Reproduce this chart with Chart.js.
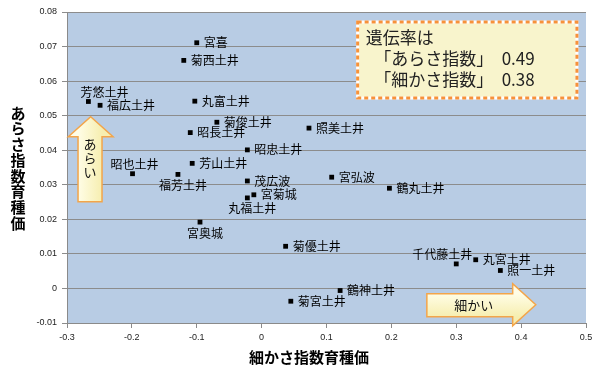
<!DOCTYPE html>
<html>
<head>
<meta charset="utf-8">
<script src="https://cdn.jsdelivr.net/npm/chart.js@4"></script>
<style>
  body { margin: 0; background: #fff; }
  #wrap { width: 598px; height: 366px; position: relative; }
</style>
</head>
<body>
<div id="wrap"><canvas id="chart"></canvas></div>
<script>
// 系統名と育種価（細かさ指数 / あらさ指数）
const names = ['宮喜', '菊西土井', '芳悠土井', '福広土井', '丸富土井', '菊俊土井', '昭長土井', '照美土井',
  '昭忠土井', '芳山土井', '昭也土井', '福芳土井', '茂広波', '宮弘波', '鶴丸土井', '宮菊城',
  '丸福土井', '宮奥城', '菊優土井', '千代藤土井', '丸宮土井', '照一土井', '鶴神土井', '菊宮土井'];
const fineVals = [-0.100, -0.120, -0.267, -0.249, -0.103, -0.069, -0.110, 0.073,
  -0.022, -0.107, -0.199, -0.129, -0.022, 0.108, 0.197, -0.012,
  -0.022, -0.095, 0.037, 0.300, 0.330, 0.368, 0.121, 0.045];
const roughVals = [0.0711, 0.0660, 0.0541, 0.0530, 0.0542, 0.0481, 0.0451, 0.0464,
  0.0401, 0.0362, 0.0332, 0.0330, 0.0311, 0.0322, 0.0290, 0.0271,
  0.0262, 0.0192, 0.0122, 0.0071, 0.0083, 0.0052, -0.0006, -0.0037];
// label side: r = right, t = above, b = below, tr / tl = above shifted
const labelSide = ['r', 'r', 'tr', 'r', 'r', 'r', 'r', 'r',
  'r', 'r', 't', 'b', 'r', 'r', 'r', 'r',
  'b', 'b', 'r', 'tl', 'r', 'r', 'r', 'r'];

const xTicks = [-0.3, -0.2, -0.1, 0, 0.1, 0.2, 0.3, 0.4, 0.5];
const yTicks = [-0.01, 0, 0.01, 0.02, 0.03, 0.04, 0.05, 0.06, 0.07, 0.08];
const xTitle = '細かさ指数育種価';
const yTitle = 'あらさ指数育種価';
const noteLines = ['遺伝率は', '　「あらさ指数」　0.49', '　「細かさ指数」　0.38'];

const JP = '"Noto Sans CJK JP", "Noto Sans", sans-serif';
const points = fineVals.map((x, i) => ({ x, y: roughVals[i] }));

function arrowFill(ctx, x0, y0, x1, y1) {
  const g = ctx.createLinearGradient(x0, y0, x1, y1);
  g.addColorStop(0, '#fffde6');
  g.addColorStop(1, '#f6eeb0');
  return g;
}

const plotBg = {
  id: 'plotBg',
  beforeDraw(chart) {
    const { ctx, chartArea: a } = chart;
    ctx.save();
    ctx.fillStyle = '#b8cce4';
    ctx.fillRect(a.left, a.top, a.right - a.left, a.bottom - a.top);
    ctx.restore();
  }
};

const extras = {
  id: 'extras',
  afterDatasetsDraw(chart) {
    const { ctx, scales: { x, y } } = chart;
    ctx.save();

    // data labels
    ctx.font = '12px ' + JP;
    ctx.fillStyle = '#000';
    ctx.textBaseline = 'middle';
    const off = { r: [7, 0, 'left'], t: [2, -9, 'center'], b: [5, 11, 'center'], tr: [-8, -9, 'left'], tl: [16, -9, 'right'] };
    points.forEach((p, i) => {
      const o = off[labelSide[i]];
      ctx.textAlign = o[2];
      ctx.fillText(names[i], x.getPixelForValue(p.x) + o[0], y.getPixelForValue(p.y) + o[1]);
    });

    // up arrow あらい
    let l = x.getPixelForValue(-0.298), r = x.getPixelForValue(-0.229);
    let sl = x.getPixelForValue(-0.283), sr = x.getPixelForValue(-0.246);
    let tip = y.getPixelForValue(0.0497), hb = y.getPixelForValue(0.0439), bot = y.getPixelForValue(0.0251);
    ctx.beginPath();
    ctx.moveTo((l + r) / 2, tip);
    ctx.lineTo(r, hb); ctx.lineTo(sr, hb); ctx.lineTo(sr, bot);
    ctx.lineTo(sl, bot); ctx.lineTo(sl, hb); ctx.lineTo(l, hb);
    ctx.closePath();
    ctx.fillStyle = arrowFill(ctx, sl, 0, sr, 0);
    ctx.fill();
    ctx.strokeStyle = '#f3a54a';
    ctx.lineWidth = 1.5;
    ctx.stroke();
    ctx.fillStyle = '#111';
    ctx.font = '13px ' + JP;
    ctx.textAlign = 'center';
    ['あ', 'ら', 'い'].forEach((c, i) => ctx.fillText(c, (sl + sr) / 2, hb + 7 + i * 14));

    // right arrow 細かい
    const ax0 = x.getPixelForValue(0.2547), axb = x.getPixelForValue(0.387), axt = x.getPixelForValue(0.4226);
    const st = y.getPixelForValue(-0.0015), sb = y.getPixelForValue(-0.0082);
    const ht = y.getPixelForValue(0.0014), hbm = y.getPixelForValue(-0.0108);
    ctx.beginPath();
    ctx.moveTo(ax0, st); ctx.lineTo(axb, st); ctx.lineTo(axb, ht);
    ctx.lineTo(axt, (ht + hbm) / 2); ctx.lineTo(axb, hbm); ctx.lineTo(axb, sb);
    ctx.lineTo(ax0, sb); ctx.closePath();
    ctx.fillStyle = arrowFill(ctx, 0, st, 0, sb);
    ctx.fill();
    ctx.stroke();
    ctx.fillStyle = '#111';
    ctx.fillText('細かい', (ax0 + axb) / 2 + 4, (st + sb) / 2);

    // heritability note
    const bx0 = x.getPixelForValue(0.148), bx1 = x.getPixelForValue(0.486);
    const by0 = y.getPixelForValue(0.0771), by1 = y.getPixelForValue(0.0551);
    ctx.fillStyle = '#f8f4cc';
    ctx.fillRect(bx0, by0, bx1 - bx0, by1 - by0);
    ctx.lineWidth = 3;
    ctx.strokeStyle = '#fff';
    ctx.strokeRect(bx0, by0, bx1 - bx0, by1 - by0);
    ctx.setLineDash([4, 3]);
    ctx.strokeStyle = '#f7923a';
    ctx.strokeRect(bx0, by0, bx1 - bx0, by1 - by0);
    ctx.setLineDash([]);
    ctx.fillStyle = '#222';
    ctx.font = '17px ' + JP;
    ctx.textAlign = 'left';
    noteLines.forEach((t, i) => ctx.fillText(t, bx0 + 8, by0 + 16 + i * 21));

    // axis titles
    ctx.fillStyle = '#000';
    ctx.font = 'bold 15px ' + JP;
    ctx.textAlign = 'center';
    ctx.fillText(xTitle, 309, 357);
    [...yTitle].forEach((c, i) => ctx.fillText(c, 18, 113 + i * 15.7));

    ctx.restore();
  }
};

new Chart(document.getElementById('chart'), {
  type: 'scatter',
  data: {
    datasets: [{
      data: points,
      pointStyle: 'rect',
      pointRadius: 3.4,
      backgroundColor: '#000',
      borderColor: '#000',
      borderWidth: 0
    }]
  },
  options: {
    responsive: true,
    maintainAspectRatio: false,
    animation: false,
    layout: { padding: { left: 0, top: 12, right: 12, bottom: 0 } },
    plugins: { legend: { display: false }, tooltip: { enabled: false } },
    scales: {
      x: {
        type: 'linear',
        min: -0.3,
        max: 0.5,
        afterBuildTicks: (s) => { s.ticks = xTicks.map((v) => ({ value: v })); },
        afterFit: (s) => { s.height = 43; },
        grid: { drawOnChartArea: false, drawTicks: true, tickLength: 5, color: '#8a8a8a' },
        border: { color: '#8a8a8a', width: 1 },
        ticks: {
          padding: 4,
          color: '#222',
          font: { family: '"Liberation Sans", Arial, sans-serif', size: 9 },
          maxRotation: 0,
          callback: (v) => String(Math.round(v * 10) / 10)
        }
      },
      y: {
        type: 'linear',
        min: -0.01,
        max: 0.08,
        afterBuildTicks: (s) => { s.ticks = yTicks.map((v) => ({ value: v })); },
        afterFit: (s) => { s.width = 67; },
        grid: { color: '#8c8c8c', tickLength: 5, lineWidth: 1 },
        border: { color: '#8a8a8a', width: 1 },
        ticks: {
          padding: 5,
          color: '#222',
          font: { family: '"Liberation Sans", Arial, sans-serif', size: 9 },
          callback: (v) => String(Math.round(v * 100) / 100)
        }
      }
    }
  },
  plugins: [plotBg, extras]
});
</script>
</body>
</html>
